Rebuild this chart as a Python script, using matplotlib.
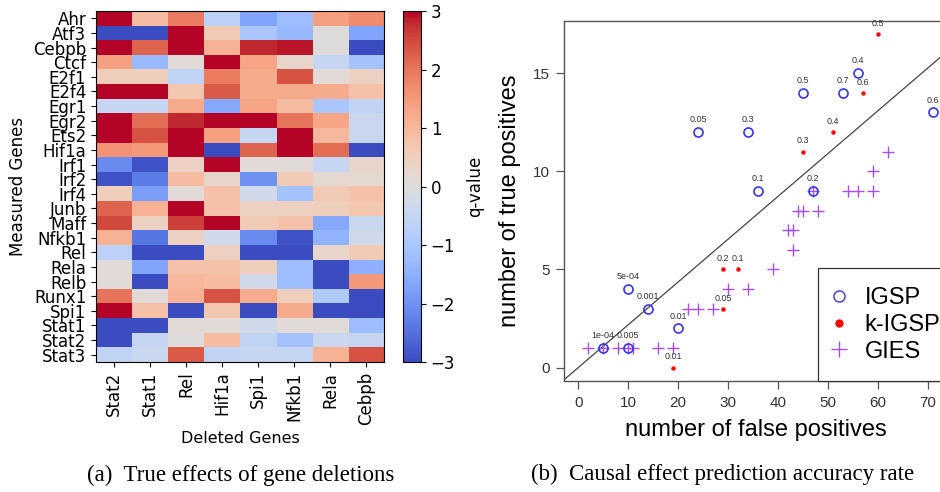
import numpy as np
import matplotlib.pyplot as plt
from matplotlib.lines import Line2D
from matplotlib.patches import Rectangle

# ---------------- data ----------------
deleted_genes = ['Stat2', 'Stat1', 'Rel', 'Hif1a', 'Spi1', 'Nfkb1', 'Rela', 'Cebpb']
measured_genes = ['Ahr', 'Atf3', 'Cebpb', 'Ctcf', 'E2f1', 'E2f4', 'Egr1', 'Egr2', 'Ets2',
                  'Hif1a', 'Irf1', 'Irf2', 'Irf4', 'Junb', 'Maff', 'Nfkb1', 'Rel', 'Rela',
                  'Relb', 'Runx1', 'Spi1', 'Stat1', 'Stat2', 'Stat3']
q_values = [
    [3.0, 0.9, 1.9, -0.7, -1.7, -1.2, 1.4, 1.7],    # Ahr
    [-3.0, -3.0, 3.0, 0.6, -1.0, -1.3, 0.0, -1.7],  # Atf3
    [3.0, 2.2, 3.0, 1.1, 2.8, 2.9, 0.0, -3.0],      # Cebpb
    [1.4, -1.3, 0.1, 3.0, 1.3, 0.3, -0.5, -1.1],    # Ctcf
    [0.5, 0.5, -0.6, 1.9, 1.2, 2.4, 0.1, 0.4],      # E2f1
    [3.0, 3.0, 0.7, 2.3, 1.2, 1.2, 1.2, 0.8],       # E2f4
    [-0.5, -0.5, 1.2, -1.6, 1.3, 0.9, -1.0, -0.6],  # Egr1
    [3.0, 2.1, 2.8, 3.0, 3.0, 2.0, 1.3, -0.4],      # Egr2
    [3.0, 2.4, 3.0, 1.4, -0.5, 3.0, 1.0, -0.4],     # Ets2
    [1.6, 1.5, 3.0, -3.0, 2.2, 3.0, 2.1, -3.0],     # Hif1a
    [-2.1, -2.9, 0.4, 3.0, 0.1, 0.1, -0.5, 0.3],    # Irf1
    [-2.9, -2.3, 0.9, 0.3, -2.0, 0.6, 0.2, 0.2],    # Irf2
    [0.5, -1.8, 0.1, 0.8, -0.3, -1.1, 0.6, 0.8],    # Irf4
    [2.2, 1.1, 3.0, 0.8, 0.4, 0.4, 0.5, 0.7],       # Junb
    [2.5, 0.4, 2.6, 3.0, 0.6, 0.8, -1.6, -0.4],     # Maff
    [1.1, -2.4, 0.4, -0.3, -2.1, -2.9, -1.4, -0.3], # Nfkb1
    [-0.7, -3.0, -3.0, 0.4, -3.0, -3.0, 0.3, 0.6],  # Rel
    [0.1, -1.7, 0.8, 0.8, 0.5, -1.2, -3.0, -1.5],   # Rela
    [0.1, -3.0, 1.0, 0.9, -0.3, -1.2, -3.0, 1.5],   # Relb
    [2.0, 0.1, 1.1, 2.4, 1.2, 0.5, -0.9, -3.0],     # Runx1
    [3.0, 0.8, -3.0, 0.7, -3.0, 1.2, -3.0, -3.0],   # Spi1
    [-3.0, -3.0, 0.1, 0.1, -0.3, 0.1, 0.1, -1.2],   # Stat1
    [-3.0, -0.5, 0.0, 0.9, -0.6, -1.1, -0.4, -0.5], # Stat2
    [-0.6, -0.4, 2.3, -0.6, -0.5, -0.5, 1.1, 2.4],  # Stat3
]

igsp_fp = [5, 10, 10, 14, 20, 24, 36, 34, 47, 45, 56, 53, 71]
igsp_tp = [1, 1, 4, 3, 2, 12, 9, 12, 9, 14, 15, 14, 13]
igsp_labels = ['1e-04', '0.005', '5e-04', '0.001', '0.01', '0.05', '0.1', '0.3',
               '0.2', '0.5', '0.4', '0.7', '0.6']

kigsp_fp = [19, 29, 32, 29, 45, 51, 60, 57]
kigsp_tp = [0, 3, 5, 5, 11, 12, 17, 14]
kigsp_labels = ['0.01', '0.05', '0.1', '0.2', '0.3', '0.4', '0.5', '0.6']

gies_fp = [2, 5, 8, 10, 11, 16, 19, 22, 24, 27, 30, 34, 39, 43, 42, 43, 44, 45, 48,
           47, 54, 56, 59, 59, 62]
gies_tp = [1, 1, 1, 1, 1, 1, 1, 3, 3, 3, 4, 4, 5, 6, 7, 7, 8, 8, 8, 9, 9, 9, 9, 10, 11]

diag_slope = 0.218

# ---------------- figure ----------------
fig = plt.figure(figsize=(9.4, 4.92), dpi=100, facecolor='white')

# (a) heatmap
ax1 = fig.add_axes([0.1021, 0.2642, 0.3064, 0.7134])
im = ax1.imshow(np.array(q_values), cmap='coolwarm', vmin=-3, vmax=3,
                aspect='auto', interpolation='nearest')
ax1.set_xticks(range(len(deleted_genes)))
ax1.set_xticklabels(deleted_genes, rotation=90, fontsize=12)
ax1.set_yticks(range(len(measured_genes)))
ax1.set_yticklabels(measured_genes, fontsize=12)
ax1.set_xlabel('Deleted Genes', fontsize=11.5)
ax1.set_ylabel('Measured Genes', fontsize=12)

cax = fig.add_axes([0.4287, 0.2642, 0.0191, 0.7134])
cb = fig.colorbar(im, cax=cax, ticks=[-3, -2, -1, 0, 1, 2, 3])
cb.ax.tick_params(labelsize=12)
cb.set_label('q-value', fontsize=12, labelpad=8)
cb.outline.set_linewidth(0.8)

# (b) scatter, R style
sans = 'Liberation Sans'
ax2 = fig.add_axes([0.6, 0.2256, 0.4074, 0.7327])
ax2.set_xlim(-2.84, 73.84)
ax2.set_ylim(-0.68, 17.68)
for s in ax2.spines.values():
    s.set_color('#555555')
    s.set_linewidth(1.0)

xx = np.array([-2.84, 73.84])
ax2.plot(xx, diag_slope * xx, color='#444444', lw=0.9, zorder=1)

ax2.plot(gies_fp, gies_tp, linestyle='none', marker='+', ms=8, mew=1.0,
         color='#A64DF0', zorder=2)
ax2.plot(igsp_fp, igsp_tp, linestyle='none', marker='o', ms=6.5, mew=1.2,
         mfc='none', mec='#3535F5', zorder=3)
ax2.plot(kigsp_fp, kigsp_tp, linestyle='none', marker='o', ms=3.2, mew=0,
         color='#FF0000', zorder=3)

for x, y, t in zip(igsp_fp, igsp_tp, igsp_labels):
    ax2.annotate(t, (x, y), xytext=(0, 5.5), textcoords='offset points',
                 ha='center', va='bottom', fontsize=6.5, color='#333333', family=sans)
for x, y, t in zip(kigsp_fp, kigsp_tp, kigsp_labels):
    ax2.annotate(t, (x, y), xytext=(0, 4.5), textcoords='offset points',
                 ha='center', va='bottom', fontsize=6.5, color='#333333', family=sans)

ax2.set_xticks(range(0, 80, 10))
ax2.set_yticks([0, 5, 10, 15])
ax2.tick_params(direction='out', length=5.5, width=0.9, color='#555555',
                labelsize=11, labelcolor='#333333', pad=5)
for lab in ax2.get_xticklabels() + ax2.get_yticklabels():
    lab.set_family(sans)
ax2.set_xlabel('number of false positives', fontsize=17, family=sans, labelpad=7)
ax2.set_ylabel('number of true positives', fontsize=17, family=sans, labelpad=8)

# legend box in the bottom-right corner, drawn like R's legend()
ax2.add_patch(Rectangle((0.663, 0.0), 0.4, 0.313, transform=ax2.transAxes,
                        facecolor='white', edgecolor='#333333', lw=0.9,
                        clip_on=False, zorder=4))
handles = [
    Line2D([], [], linestyle='none', marker='o', ms=8, mew=1.0, mfc='none', mec='#3535F5'),
    Line2D([], [], linestyle='none', marker='o', ms=6, mew=0, color='#FF0000'),
    Line2D([], [], linestyle='none', marker='+', ms=12, mew=1.0, color='#A64DF0'),
]
leg = ax2.legend(handles, ['IGSP', 'k-IGSP', 'GIES'], loc='center left',
                 bbox_to_anchor=(815 / 940, 1 - 325 / 492), bbox_transform=fig.transFigure,
                 prop={'family': sans, 'size': 17}, frameon=False, borderpad=0,
                 handlelength=1.0, handletextpad=0.6, labelspacing=0.2)
leg.set_zorder(5)

# captions
serif = 'Liberation Serif'
fig.text(241 / 940, 1 - 475 / 492, '(a)  True effects of gene deletions',
         ha='center', va='center', fontsize=16.5, family=serif)
fig.text(723 / 940, 1 - 474 / 492, '(b)  Causal effect prediction accuracy rate',
         ha='center', va='center', fontsize=16.5, family=serif)

fig.savefig('out.png', dpi=100)
plt.close(fig)
